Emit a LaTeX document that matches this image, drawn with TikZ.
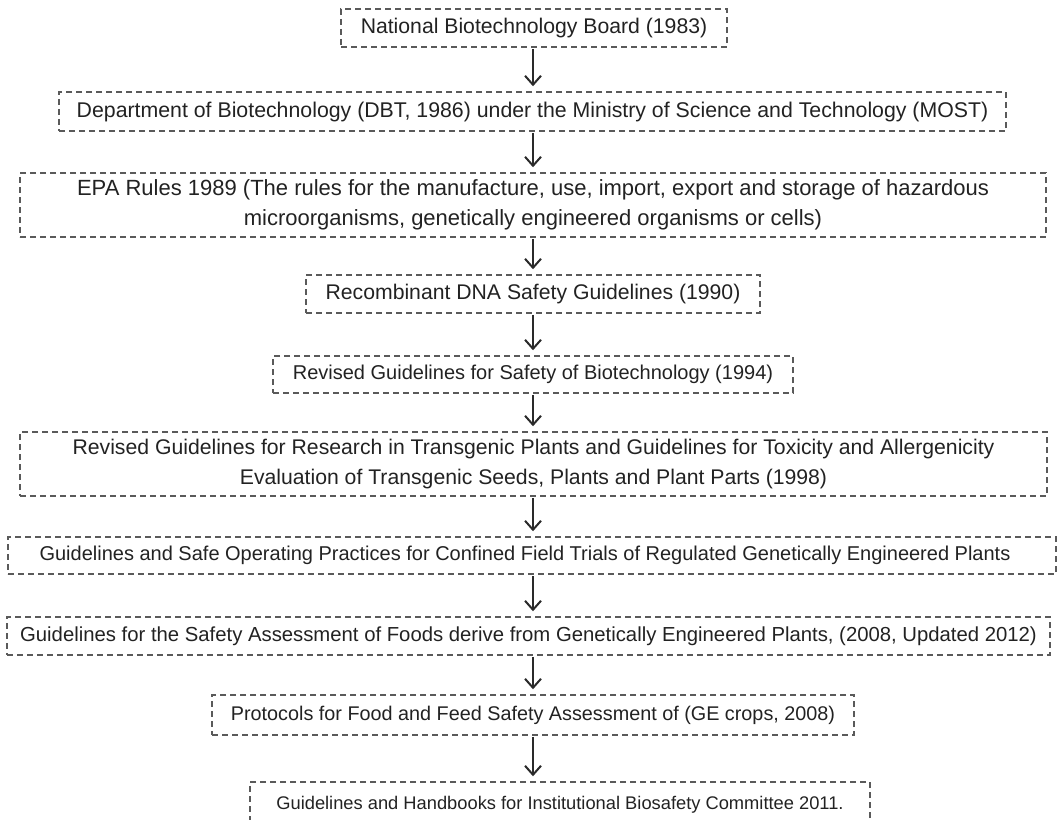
\documentclass[tikz,border=0pt]{standalone}
\usepackage{fontspec}
\setmainfont{Liberation Sans}
\usetikzlibrary{arrows.meta}
\definecolor{boxline}{HTML}{5A5A5A}
\definecolor{txt}{HTML}{222222}
\definecolor{arrowcol}{HTML}{2A2A2A}
\tikzset{
  stagebox/.style={draw=boxline, line width=1.5pt, dash pattern=on 6pt off 4pt,
    inner sep=0pt, text=txt, align=center,
    font=\fontsize{21pt}{30pt}\selectfont},
  fsize/.style={font=\fontsize{#1}{30pt}\selectfont},
  flowarrow/.style={draw=arrowcol, line width=2pt,
    -{Straight Barb[length=9pt,width=16pt,line width=2pt]},
    shorten >=5pt, shorten <=1pt}
}
\begin{document}
\begin{tikzpicture}[x=1pt,y=-1pt]
\useasboundingbox (0,0) rectangle (1057,819);
\clip (0,0) rectangle (1057,819);
\coordinate (ax) at (533,0);
\node[stagebox, fsize=21.2pt, minimum width=386pt, minimum height=38pt] (n1) at (534,28)
  {National Biotechnology Board (1983)};
\node[stagebox, fsize=21.3pt, minimum width=947pt, minimum height=39pt] (n2) at (532.5,111.5)
  {Department of Biotechnology (DBT, 1986) under the Ministry of Science and Technology (MOST)};
\node[stagebox, fsize=22pt, minimum width=1026pt, minimum height=64pt] (n3) at (533,205)
  {EPA Rules 1989 (The rules for the manufacture, use, import, export and storage of hazardous\\
   microorganisms, genetically engineered organisms or cells)};
\node[stagebox, fsize=21.2pt, minimum width=454pt, minimum height=38pt] (n4) at (533,294)
  {Recombinant DNA Safety Guidelines (1990)};
\node[stagebox, fsize=20pt, minimum width=520pt, minimum height=37pt] (n5) at (533,374.5)
  {Revised Guidelines for Safety of Biotechnology (1994)};
\node[stagebox, fsize=21.2pt, minimum width=1027pt, minimum height=64pt] (n6) at (533.5,464)
  {Revised Guidelines for Research in Transgenic Plants and Guidelines for Toxicity and Allergenicity\\
   Evaluation of Transgenic Seeds, Plants and Plant Parts (1998)};
\node[stagebox, fsize=20pt, minimum width=1048pt, minimum height=37pt] (n7) at (532,555.5)
  {\hspace*{-14pt}Guidelines and Safe Operating Practices for Confined Field Trials of Regulated Genetically Engineered Plants};
\node[stagebox, fsize=20.3pt, minimum width=1043pt, minimum height=38pt] (n8) at (528.5,636)
  {Guidelines for the Safety Assessment of Foods derive from Genetically Engineered Plants, (2008, Updated 2012)};
\node[stagebox, fsize=19.8pt, minimum width=642pt, minimum height=40pt] (n9) at (533,715)
  {Protocols for Food and Feed Safety Assessment of (GE crops, 2008)};
\node[stagebox, fsize=18.3pt, minimum width=620pt, minimum height=46pt] (n10) at (560,805)
  {\raisebox{5pt}{Guidelines and Handbooks for Institutional Biosafety Committee 2011.}};
\foreach \a/\b in {n1/n2,n2/n3,n3/n4,n4/n5,n5/n6,n6/n7,n7/n8,n8/n9,n9/n10}
  \draw[flowarrow] (\a.south -| ax) -- (\b.north -| ax);
\end{tikzpicture}
\end{document}
